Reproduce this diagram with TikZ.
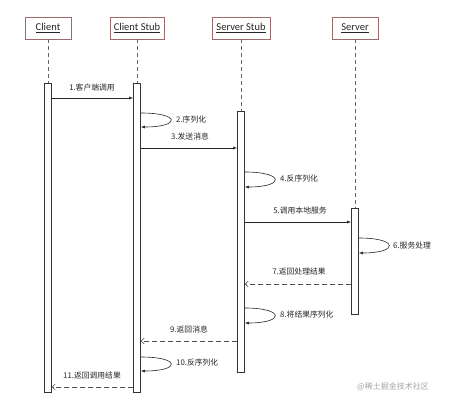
\documentclass[tikz,border=0pt]{standalone}
\usepackage{fontspec}
\setmainfont{Carlito}
\newfontfamily\cjk{Noto Sans CJK SC}
\usetikzlibrary{arrows.meta,calc}
\definecolor{headred}{HTML}{9C6B6E}
\begin{document}
\begin{tikzpicture}[x=1pt,y=-1pt,
 head/.style={draw=headred, line width=0.8pt, fill=white, minimum height=22pt, inner sep=0pt, font=\fontsize{10.5}{12}\selectfont, text=black!85},
 bar/.style={draw=black!80, line width=0.7pt, fill=white, minimum width=7pt, inner sep=0pt, anchor=north},
 life/.style={draw=black!60, dash pattern=on 4pt off 3pt, line width=0.6pt},
 msg/.style={draw=black!85, line width=0.6pt, -{Latex[length=4pt,width=3pt]}},
 ret/.style={draw=black!70, line width=0.6pt, dash pattern=on 5pt off 3pt, -{Straight Barb[length=3pt,width=6pt]}},
 lbl/.style={font=\cjk\fontsize{7.8}{9}\selectfont, text=black!85, inner sep=0pt},
]
\useasboundingbox (0,0) rectangle (454,404);
\fill[white] (0,0) rectangle (454,404);
% headers
\node[head, minimum width=46pt] (c) at (48,28) {\underline{Client}};
\node[head, minimum width=54pt] (cs) at (137,28) {\underline{Client Stub}};
\node[head, minimum width=58pt] (ss) at (241,28) {\underline{Server Stub}};
\node[head, minimum width=46pt] (s) at (355,28) {\underline{Server}};
% activation bars
\node[bar, minimum height=309pt] (cbar) at (48,83) {};
\node[bar, minimum height=309pt] (csbar) at (137,83) {};
\node[bar, minimum height=261pt] (ssbar) at (241,111) {};
\node[bar, minimum height=106pt] (sbar) at (355,208) {};
% lifelines
\draw[life] (c.south) -- (cbar.north);
\draw[life] (cs.south) -- (csbar.north);
\draw[life] (ss.south) -- (ssbar.north);
\draw[life] (s.south) -- (sbar.north);
% 1
\draw[msg] (cbar.east |- 0,98) -- (csbar.west |- 0,98);
\node[lbl] (l1) at (92,88) {1.客户端调用};
% 2
\draw[msg] (csbar.east |- 0,113) .. controls +(40,0) and +(40,0) .. (csbar.east |- 0,127);
\node[lbl, anchor=west] (l2) at (176,120) {2.序列化};
% 3
\draw[msg] (csbar.east |- 0,148) -- (ssbar.west |- 0,148);
\node[lbl] (l3) at (190,137) {3.发送消息};
% 4
\draw[msg] (ssbar.east |- 0,172) .. controls +(40,0) and +(40,0) .. (ssbar.east |- 0,187);
\node[lbl, anchor=west] (l4) at (280,179) {4.反序列化};
% 5
\draw[msg] (ssbar.east |- 0,222) -- (sbar.west |- 0,222);
\node[lbl] (l5) at (300,211) {5.调用本地服务};
% 6
\draw[msg] (sbar.east |- 0,238) .. controls +(40,0) and +(40,0) .. (sbar.east |- 0,253);
\node[lbl, anchor=west] (l6) at (393,246) {6.服务处理};
% 7
\draw[ret] (sbar.west |- 0,284) -- (ssbar.east |- 0,284);
\node[lbl] (l7) at (299,272) {7.返回处理结果};
% 8
\draw[msg] (ssbar.east |- 0,308) .. controls +(40,0) and +(40,0) .. (ssbar.east |- 0,323);
\node[lbl, anchor=west] (l8) at (280,315) {8.将结果序列化};
% 9
\draw[ret] (ssbar.west |- 0,341) -- (csbar.east |- 0,341);
\node[lbl] (l9) at (189,329) {9.返回消息};
% 10
\draw[msg] (csbar.east |- 0,357) .. controls +(40,0) and +(40,0) .. (csbar.east |- 0,371);
\node[lbl, anchor=west] (l10) at (176,363) {10.反序列化};
% 11
\draw[ret] (csbar.west |- 0,387) -- (cbar.east |- 0,387);
\node[lbl] (l11) at (92,376) {11.返回调用结果};
% watermark
\node[lbl, anchor=west, text=black!35, font=\cjk\fontsize{8}{9}\selectfont] (wm) at (357,387) {@稀土掘金技术社区};
\end{tikzpicture}
\end{document}
